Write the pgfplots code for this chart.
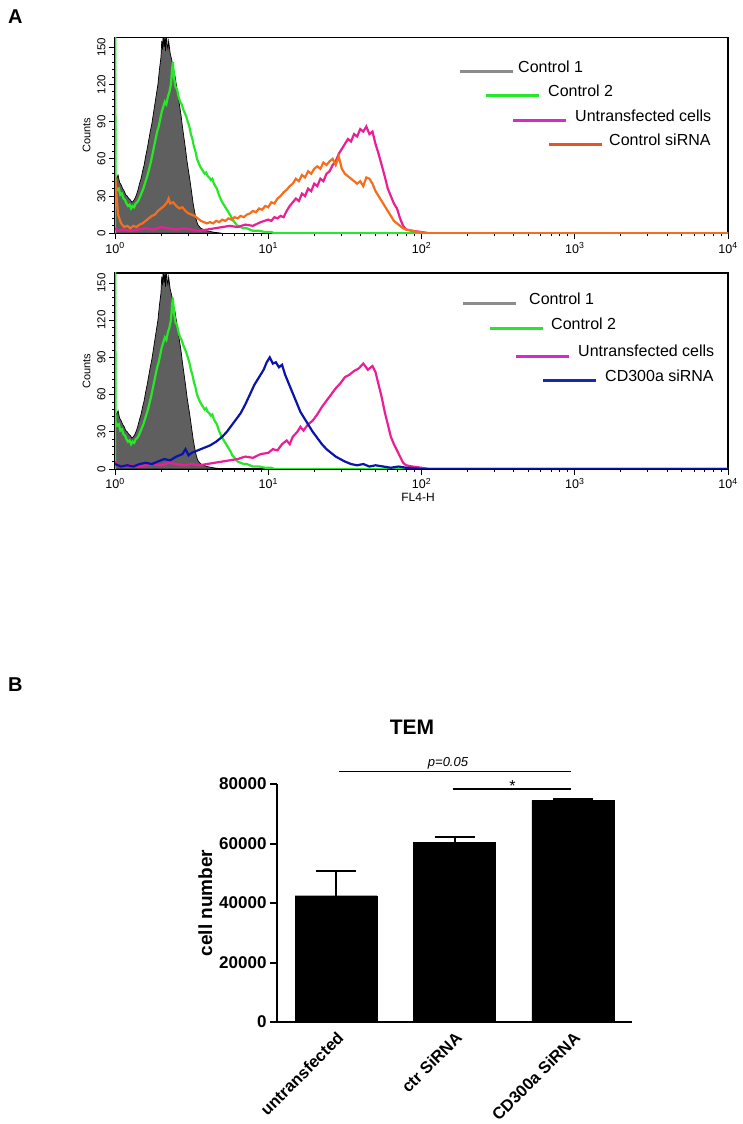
\documentclass[border=0pt]{standalone}
\usepackage{pgfplots}
\pgfplotsset{compat=1.18}
\usepackage{pgfplotstable}
\usepackage{fontspec}
\setmainfont{Liberation Sans}

\definecolor{cfill}{RGB}{95,95,95}
\definecolor{cgreen}{RGB}{40,230,40}
\definecolor{cmag}{RGB}{235,30,150}
\definecolor{corange}{RGB}{245,110,30}
\definecolor{cblue}{RGB}{10,20,170}
\definecolor{lgray}{RGB}{140,140,140}
\definecolor{lmag}{RGB}{220,40,200}
\definecolor{lorange}{RGB}{225,85,40}
\definecolor{lblue}{RGB}{20,40,190}

\pgfplotstableread{
x y
0.000 0
0.000 46
0.010 44
0.020 47
0.030 41
0.040 39
0.050 36
0.060 34
0.070 31
0.080 30
0.090 28
0.100 27
0.110 25
0.120 26
0.130 28
0.140 31
0.150 35
0.160 40
0.170 44
0.180 50
0.190 55
0.200 62
0.210 68
0.220 75
0.230 82
0.240 88
0.250 96
0.260 104
0.270 112
0.280 120
0.290 132
0.300 142
0.305 155
0.310 148
0.315 162
0.320 150
0.325 158
0.330 147
0.335 164
0.340 152
0.345 149
0.350 155
0.360 145
0.370 140
0.380 133
0.390 128
0.400 120
0.410 112
0.420 104
0.430 96
0.440 86
0.450 77
0.460 68
0.470 58
0.480 50
0.490 42
0.500 33
0.510 24
0.520 17
0.530 11
0.540 7
0.560 4
0.580 3
0.600 2
0.640 1
0.700 0
}\ctrlone

\pgfplotstableread{
x y
0.000 0
0.000 200
0.004 38
0.015 35
0.025 36
0.035 31
0.045 32
0.055 28
0.065 27
0.075 24
0.085 22
0.095 23
0.105 20
0.115 22
0.125 21
0.135 24
0.145 25
0.155 27
0.165 30
0.175 33
0.185 36
0.195 40
0.205 44
0.215 48
0.225 53
0.235 58
0.245 64
0.255 70
0.265 76
0.275 82
0.285 86
0.295 92
0.305 98
0.315 102
0.325 106
0.335 104
0.345 110
0.355 114
0.365 120
0.372 132
0.378 138
0.385 126
0.395 118
0.405 116
0.415 110
0.425 106
0.435 104
0.445 100
0.455 97
0.465 94
0.475 90
0.485 86
0.495 80
0.505 76
0.515 70
0.525 66
0.535 60
0.545 57
0.555 54
0.565 52
0.575 50
0.585 48
0.595 49
0.605 46
0.615 45
0.625 43
0.635 44
0.645 40
0.655 38
0.665 36
0.675 32
0.685 29
0.695 26
0.705 24
0.715 22
0.725 20
0.735 18
0.745 16
0.755 14
0.765 11
0.780 9
0.800 6
0.820 5
0.840 4
0.860 4
0.880 3
0.900 2
0.940 2
0.980 1
1.020 1
1.040 0
4.000 0
}\ctrltwo

\pgfplotstableread{
x y
0.00 4
0.02 2
0.05 3
0.10 2
0.15 3
0.20 4
0.25 3
0.30 5
0.35 4
0.40 3
0.45 4
0.50 3
0.55 2
0.60 3
0.65 4
0.70 5
0.75 6
0.80 5
0.85 7
0.90 6
0.95 9
1.00 11
1.02 10
1.04 13
1.06 12
1.08 14
1.10 13
1.12 18
1.14 22
1.16 25
1.18 28
1.20 26
1.22 32
1.24 30
1.26 36
1.28 34
1.30 40
1.32 38
1.34 44
1.36 42
1.38 48
1.40 50
1.42 55
1.44 58
1.46 64
1.48 68
1.50 72
1.52 76
1.54 74
1.56 80
1.58 78
1.60 84
1.62 82
1.64 86
1.66 80
1.68 82
1.70 72
1.72 64
1.74 55
1.76 46
1.78 36
1.80 30
1.82 24
1.84 20
1.86 12
1.88 6
1.90 3
1.94 2
2.00 1
2.05 0
4.00 0
}\untop

\pgfplotstableread{
x y
0.00 48
0.01 30
0.02 15
0.04 8
0.06 5
0.08 6
0.10 4
0.12 6
0.14 5
0.16 7
0.18 8
0.20 10
0.22 12
0.24 14
0.26 15
0.28 18
0.30 20
0.32 22
0.34 25
0.35 28
0.36 24
0.38 25
0.40 22
0.42 20
0.44 21
0.46 18
0.48 16
0.50 15
0.52 14
0.54 12
0.56 10
0.58 9
0.60 8
0.62 9
0.64 8
0.66 10
0.68 9
0.70 11
0.72 10
0.74 12
0.76 11
0.78 13
0.80 12
0.82 14
0.84 13
0.86 15
0.88 16
0.90 18
0.92 17
0.94 20
0.96 19
0.98 22
1.00 21
1.02 25
1.04 24
1.06 28
1.08 30
1.10 33
1.12 35
1.14 38
1.16 40
1.18 44
1.20 42
1.22 47
1.24 45
1.26 50
1.28 48
1.30 52
1.32 54
1.34 52
1.36 57
1.38 55
1.40 58
1.42 60
1.44 55
1.46 62
1.48 52
1.50 48
1.52 46
1.54 44
1.56 42
1.58 40
1.60 42
1.62 38
1.64 45
1.66 44
1.68 40
1.70 34
1.72 30
1.74 26
1.76 22
1.78 18
1.80 14
1.82 10
1.84 8
1.86 6
1.88 4
1.90 3
1.94 2
1.98 1
2.05 0
4.00 0
}\ctrlsi

\pgfplotstableread{
x y
0.00 6
0.02 3
0.06 2
0.10 3
0.15 2
0.20 3
0.25 4
0.30 3
0.35 5
0.40 4
0.45 3
0.50 4
0.55 3
0.60 4
0.65 5
0.70 6
0.75 7
0.80 8
0.85 10
0.90 9
0.95 12
1.00 13
1.03 16
1.06 15
1.09 20
1.12 23
1.14 20
1.16 26
1.19 30
1.21 34
1.23 31
1.26 36
1.29 39
1.32 44
1.35 50
1.38 55
1.41 60
1.44 65
1.47 69
1.50 74
1.53 76
1.56 79
1.59 81
1.62 85
1.65 80
1.68 83
1.70 78
1.72 68
1.74 58
1.76 46
1.78 36
1.80 26
1.82 20
1.84 15
1.86 10
1.88 5
1.90 3
1.94 2
2.00 1
2.05 0
4.00 0
}\unbot

\pgfplotstableread{
x y
0.00 4
0.04 2
0.08 3
0.12 2
0.16 4
0.20 5
0.24 4
0.28 6
0.32 8
0.36 7
0.40 10
0.44 12
0.46 16
0.48 11
0.50 13
0.54 15
0.58 17
0.62 19
0.66 22
0.70 26
0.73 30
0.76 35
0.79 40
0.82 45
0.85 52
0.88 60
0.91 68
0.94 74
0.97 80
0.99 86
1.01 90
1.03 85
1.05 86
1.07 82
1.09 84
1.11 76
1.13 70
1.15 64
1.17 58
1.19 52
1.21 46
1.23 42
1.26 36
1.29 30
1.32 25
1.35 20
1.38 16
1.41 13
1.44 10
1.47 8
1.50 6
1.54 4
1.58 3
1.62 4
1.66 2
1.70 3
1.75 2
1.80 1
1.85 2
1.90 1
2.00 0
4.00 0
}\cdsi

\pgfplotsset{
  hist/.style={
    scale only axis, width=613pt, height=196pt,
    xmin=0, xmax=4, ymin=0, ymax=158,
    axis line style={black, line width=1.2pt},
    tick pos=left, tick align=outside,
    major tick length=6pt, minor tick length=3pt,
    every tick/.style={black, line width=0.8pt},
    xtick={0,1,2,3,4},
    xticklabels={10\textsuperscript{0},10\textsuperscript{1},10\textsuperscript{2},10\textsuperscript{3},10\textsuperscript{4}},
    minor xtick={0.301,0.477,0.602,0.699,0.778,0.845,0.903,0.954,
      1.301,1.477,1.602,1.699,1.778,1.845,1.903,1.954,
      2.301,2.477,2.602,2.699,2.778,2.845,2.903,2.954,
      3.301,3.477,3.602,3.699,3.778,3.845,3.903,3.954},
    ytick={0,30,60,90,120,150},
    minor y tick num=4,
    /pgf/number format/assume math mode=true,
    tick label style={font=\fontsize{11.5}{12}\selectfont},
    xticklabel style={font=\fontsize{12.5}{13}\selectfont},
    yticklabel style={rotate=90, anchor=south},
    ylabel={Counts},
    ylabel style={font=\fontsize{11}{11}\selectfont},
    clip=true,
  }
}

\begin{document}
\begin{tikzpicture}
\path[use as bounding box] (0pt,0pt) rectangle (742pt,1124pt);

% Panel labels
\node[anchor=base west, inner sep=0, font=\bfseries\fontsize{20}{20}\selectfont] at (8pt,1100pt) {A};
\node[anchor=base west, inner sep=0, font=\bfseries\fontsize{20}{20}\selectfont] at (8pt,432pt) {B};

% Top histogram
\begin{axis}[hist, at={(115pt,890.7pt)}, anchor=south west]
\addplot[fill=cfill, draw=black, line width=0.7pt] table[x=x,y=y] {\ctrlone} \closedcycle;
\addplot[cgreen, line width=2.2pt] table[x=x,y=y] {\ctrltwo};
\addplot[cmag, line width=2.2pt] table[x=x,y=y] {\untop};
\addplot[corange, line width=2.2pt] table[x=x,y=y] {\ctrlsi};
\end{axis}

% Bottom histogram
\begin{axis}[hist, at={(115pt,655pt)}, anchor=south west]
\addplot[fill=cfill, draw=black, line width=0.7pt] table[x=x,y=y] {\ctrlone} \closedcycle;
\addplot[cgreen, line width=2.2pt] table[x=x,y=y] {\ctrltwo};
\addplot[cmag, line width=2.2pt] table[x=x,y=y] {\unbot};
\addplot[cblue, line width=2.2pt] table[x=x,y=y] {\cdsi};
\end{axis}

\node[font=\fontsize{12}{12}\selectfont] at (418pt,627pt) {FL4-H};

% Legends (top)
\begin{scope}[font=\fontsize{16}{16}\selectfont]
\draw[lgray, line width=3pt] (460pt,1052pt) -- (513pt,1052pt);
\node[anchor=west, inner sep=0] at (518pt,1057pt) {Control 1};
\draw[cgreen, line width=3pt] (486pt,1028pt) -- (539pt,1028pt);
\node[anchor=west, inner sep=0] at (548pt,1033pt) {Control 2};
\draw[lmag, line width=3pt] (513pt,1003pt) -- (566pt,1003pt);
\node[anchor=west, inner sep=0] at (575pt,1008pt) {Untransfected cells};
\draw[lorange, line width=3pt] (549pt,979pt) -- (602pt,979pt);
\node[anchor=west, inner sep=0] at (609pt,984pt) {Control siRNA};
% Legends (bottom)
\draw[lgray, line width=3pt] (463pt,820pt) -- (516pt,820pt);
\node[anchor=west, inner sep=0] at (529pt,825pt) {Control 1};
\draw[cgreen, line width=3pt] (490pt,795pt) -- (543pt,795pt);
\node[anchor=west, inner sep=0] at (551pt,800pt) {Control 2};
\draw[lmag, line width=3pt] (516pt,767pt) -- (569pt,767pt);
\node[anchor=west, inner sep=0] at (578pt,773pt) {Untransfected cells};
\draw[lblue, line width=3pt] (543pt,743pt) -- (596pt,743pt);
\node[anchor=west, inner sep=0] at (605pt,748pt) {CD300a siRNA};
\end{scope}

% Bar chart
\node[anchor=base, font=\bfseries\fontsize{21}{21}\selectfont] at (412pt,389pt) {TEM};
\begin{axis}[
  at={(277pt,102pt)}, anchor=south west,
  scale only axis, width=355pt, height=238pt,
  xmin=-0.5, xmax=2.5, ymin=0, ymax=80000,
  axis x line=bottom, axis y line=left,
  axis line style={-, black, line width=2.2pt},
  xtick={0,1,2},
  xticklabels={untransfected, ctr SiRNA, CD300a SiRNA},
  xtick style={draw=none},
  ytick={0,20000,40000,60000,80000},
  ytick style={black, line width=2pt},
  tick align=outside, major tick length=7pt,
  scaled y ticks=false,
  yticklabel style={/pgf/number format/.cd, fixed, 1000 sep={}},
  /pgf/number format/assume math mode=true,
  tick label style={font=\bfseries\fontsize{17}{17}\selectfont},
  xticklabel style={rotate=45, anchor=north east, inner sep=1pt, font=\bfseries\fontsize{16.5}{17}\selectfont},
  ylabel={cell number},
  ylabel style={font=\bfseries\fontsize{19}{19}\selectfont},
  clip=false,
]
\addplot[ybar, bar width=82pt, fill=black, draw=black,
  error bars/.cd, y dir=plus, y explicit,
  error bar style={line width=2pt, black},
  error mark options={rotate=90, mark size=20pt, line width=2pt, black}]
  coordinates {(0,42450) +- (0,8200) (1,60500) +- (0,1780) (2,74390) +- (0,670)};
\draw[line width=1.5pt] (axis cs:0.024,84130) -- (axis cs:1.982,84130);
\draw[line width=1.5pt] (axis cs:0.985,78320) -- (axis cs:1.982,78320);
\node[font=\itshape\fontsize{13}{13}\selectfont] at (axis cs:0.945,87060) {p=0.05};
\node[font=\fontsize{16}{16}\selectfont] at (axis cs:1.49,79300) {*};
\end{axis}
\end{tikzpicture}
\end{document}
